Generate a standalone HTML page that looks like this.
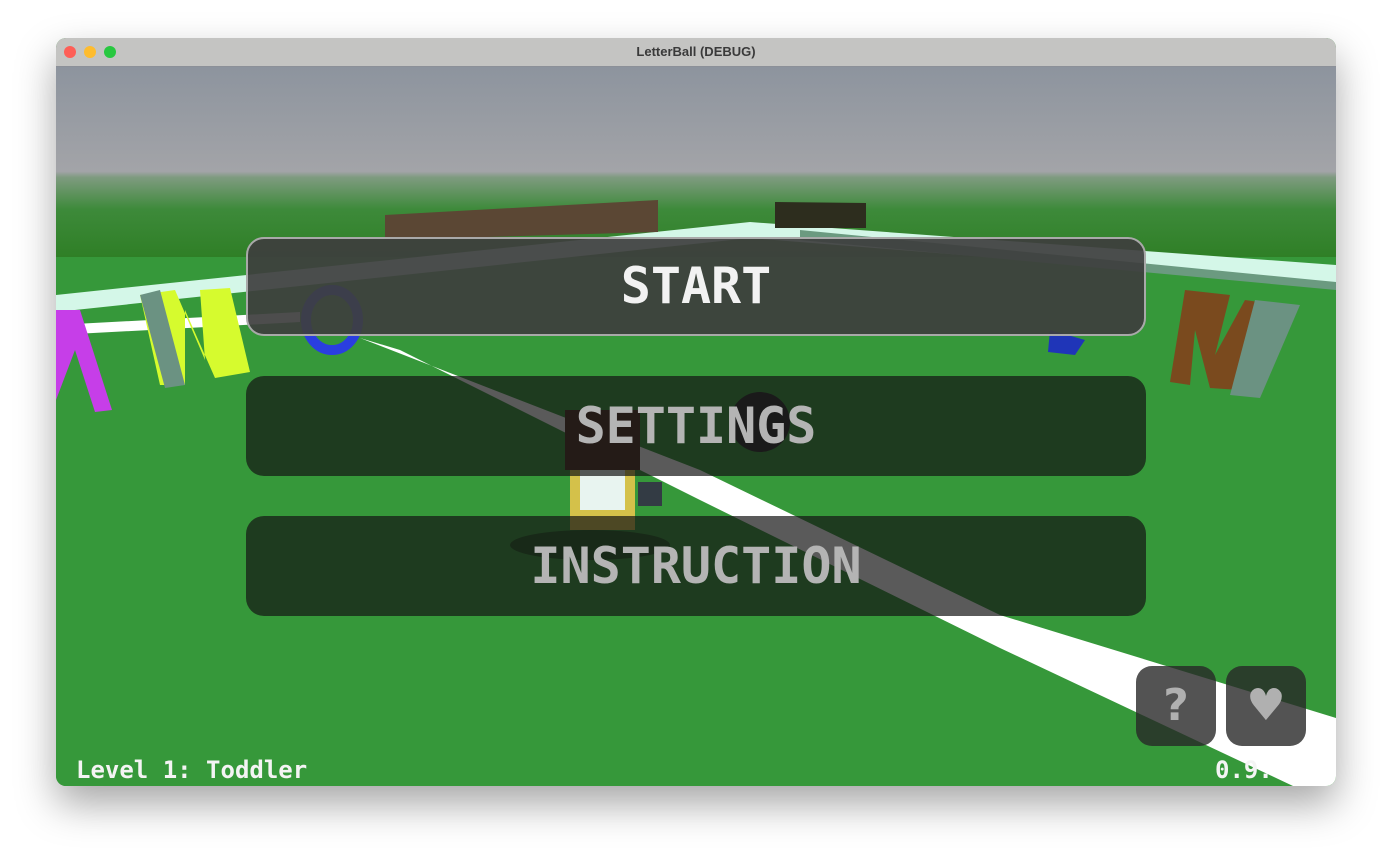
<!DOCTYPE html>
<html><head><meta charset="utf-8"><style>
html,body{margin:0;padding:0;background:#fff;width:1392px;height:860px;overflow:hidden;font-family:"Liberation Sans",sans-serif}
.win{position:absolute;left:56px;top:38px;width:1280px;height:748px;border-radius:10px;overflow:hidden;box-shadow:0 18px 40px rgba(0,0,0,.35);background:#36983a}
.tb{position:absolute;left:0;top:0;width:1280px;height:28px;background:#c4c4c2;border-bottom:1px solid #8c9098;text-align:center;font:bold 13px "Liberation Sans",sans-serif;line-height:28px;color:#3a3a3a}
.dot{position:absolute;top:8px;width:12px;height:12px;border-radius:50%}
.scene{position:absolute;left:0;top:29px}
.btn{position:absolute;left:190px;width:900px;height:100px;border-radius:18px;text-align:center;font:bold 50px "DejaVu Sans Mono","Liberation Mono",monospace;line-height:100px}
.sq{position:absolute;top:628px;width:80px;height:80px;border-radius:16px;background:rgba(40,40,40,.8);color:#b0b0b0;text-align:center;font:bold 44px "DejaVu Sans",sans-serif;line-height:80px}
.bt{position:absolute;top:718px;font:bold 24px "DejaVu Sans Mono","Liberation Mono",monospace;color:#f4f4f4}
</style></head><body>
<div class="win">
<div class="tb">LetterBall (DEBUG)
<div class="dot" style="left:8px;background:#fe5f57"></div>
<div class="dot" style="left:28px;background:#febc2e"></div>
<div class="dot" style="left:48px;background:#28c840"></div></div>
<svg class="scene" width="1280" height="719" viewBox="56 67 1280 719">
<defs><linearGradient id="sky" x1="0" y1="0" x2="0" y2="1">
<stop offset="0" stop-color="#8d949e"/><stop offset="0.55" stop-color="#a3a4a8"/><stop offset="0.58" stop-color="#7f9b80"/><stop offset="0.75" stop-color="#3d8a3a"/><stop offset="1" stop-color="#2f7f26"/></linearGradient></defs>
<rect x="56" y="67" width="1280" height="190" fill="url(#sky)"/>
<rect x="56" y="257" width="1280" height="530" fill="#36983a"/>
<polygon points="56,295 750,222 1336,265 1336,285 750,238 56,312" fill="#d4f7e8"/>
<polygon points="800,230 1336,282 1336,290 800,240" fill="#6b9a80"/>
<polygon points="385,215 658,200 658,232 385,240" fill="#5b4734"/>
<polygon points="775,202 866,203 866,228 775,228" fill="#2d2d1e"/>
<polygon points="56,325 300,312 300,322 56,335" fill="#fff"/>
<polygon points="360,338 700,470 1000,615 1336,718 1336,786 1293,786 1000,648 700,500 400,350" fill="#fff"/>
<polygon points="56,310 80,310 112,410 95,412 75,350 56,400" fill="#c63ee8"/>
<polygon points="140,295 175,290 205,360 200,290 230,288 250,372 215,378 185,310 185,385 160,385" fill="#d6fb2e"/>
<polygon points="140,295 160,290 185,385 165,388" fill="#6b9282"/>
<ellipse cx="332" cy="320" rx="26" ry="30" fill="none" stroke="#2a3ee0" stroke-width="10"/>
<polygon points="1185,290 1230,295 1215,355 1245,300 1280,305 1240,390 1210,388 1195,330 1190,385 1170,382" fill="#7a4a1e"/>
<polygon points="1255,300 1300,305 1260,398 1230,395" fill="#6b9282"/>
<polygon points="1050,330 1085,340 1075,355 1048,352" fill="#1f35b8"/>
<ellipse cx="760" cy="422" rx="30" ry="30" fill="#2a2a2a"/>
<ellipse cx="590" cy="545" rx="80" ry="15" fill="#225b22"/>
<rect x="565" y="410" width="75" height="60" fill="#4a2e1e"/>
<rect x="570" y="470" width="65" height="60" fill="#d4c14a"/>
<rect x="580" y="470" width="45" height="40" fill="#e8f4f0"/>
<rect x="638" y="482" width="24" height="24" fill="#333b44"/>
</svg>
<div class="btn" style="top:199px;background:rgba(62,62,62,.92);border:2px solid #a9a9a9;width:896px;height:95px;line-height:95px;color:#f2f2f2">START</div>
<div class="btn" style="top:338px;background:rgba(20,20,20,.7);color:#b4b4b4">SETTINGS</div>
<div class="btn" style="top:478px;background:rgba(20,20,20,.7);color:#b4b4b4">INSTRUCTION</div>
<div class="sq" style="left:1080px">?</div>
<div class="sq" style="left:1170px">♥</div>
<div class="bt" style="left:20px">Level 1: Toddler</div>
<div class="bt" style="left:1159px">0.9.</div>
</div>
</body></html>
